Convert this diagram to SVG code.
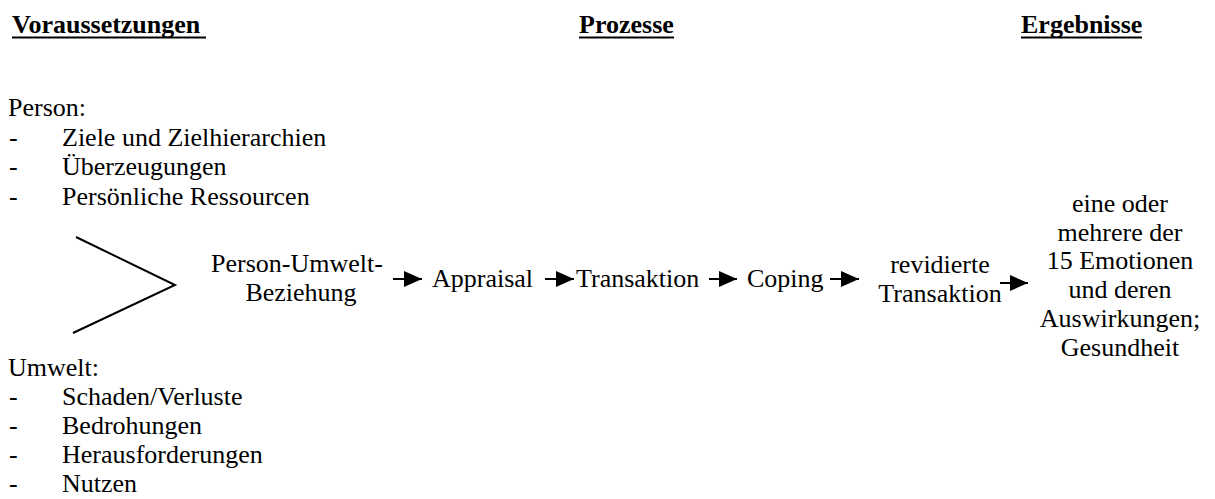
<svg xmlns="http://www.w3.org/2000/svg" width="1215" height="499" viewBox="0 0 1215 499" font-family="Liberation Serif" font-size="26">
  <style>
    .head { font-weight: bold; }
    .mid { text-anchor: middle; }
    .rule { stroke: #000; stroke-width: 2; }
    .conn { stroke: #000; stroke-width: 2; fill: none; }
  </style>
  <defs>
    <marker id="arrowhead" viewBox="0 0 18 16" refX="18" refY="8" markerWidth="18" markerHeight="16" markerUnits="userSpaceOnUse" orient="auto">
      <path d="M0,0 L18,8 L0,16 z" fill="#000"/>
    </marker>
  </defs>

  <!-- column headings with underlines -->
  <g id="headings">
    <text class="head" x="12" y="33">Voraussetzungen</text>
    <line class="rule" x1="12" y1="37.5" x2="206" y2="37.5"/>
    <text class="head" x="579" y="33">Prozesse</text>
    <line class="rule" x1="579" y1="37.5" x2="674" y2="37.5"/>
    <text class="head" x="1021" y="33">Ergebnisse</text>
    <line class="rule" x1="1021" y1="37.5" x2="1142" y2="37.5"/>
  </g>

  <!-- person factors -->
  <g id="person">
    <text x="8" y="116">Person:</text>
    <text x="9" y="145.7">-</text><text x="62" y="145.7">Ziele und Zielhierarchien</text>
    <text x="9" y="175.4">-</text><text x="62" y="175.4">Überzeugungen</text>
    <text x="9" y="205">-</text><text x="62" y="205">Persönliche Ressourcen</text>
  </g>

  <!-- environment factors -->
  <g id="umwelt">
    <text x="8" y="376">Umwelt:</text>
    <text x="9" y="405">-</text><text x="62" y="405">Schaden/Verluste</text>
    <text x="9" y="434">-</text><text x="62" y="434">Bedrohungen</text>
    <text x="9" y="463">-</text><text x="62" y="463">Herausforderungen</text>
    <text x="9" y="492">-</text><text x="62" y="492">Nutzen</text>
  </g>

  <g id="pu-beziehung">
    <text class="mid" x="297" y="272">Person-Umwelt-</text>
    <text class="mid" x="301" y="301">Beziehung</text>
  </g>
  <g id="appraisal"><text x="432" y="287">Appraisal</text></g>
  <g id="transaktion"><text x="576" y="287">Transaktion</text></g>
  <g id="coping"><text x="747" y="287">Coping</text></g>
  <g id="revidierte-transaktion">
    <text class="mid" x="940" y="273">revidierte</text>
    <text class="mid" x="940" y="302">Transaktion</text>
  </g>
  <g id="ergebnis">
    <text class="mid" x="1120" y="212">eine oder</text>
    <text class="mid" x="1120" y="240.7">mehrere der</text>
    <text class="mid" x="1120" y="269.4">15 Emotionen</text>
    <text class="mid" x="1120" y="298">und deren</text>
    <text class="mid" x="1120" y="326.8">Auswirkungen;</text>
    <text class="mid" x="1120" y="355.5">Gesundheit</text>
  </g>

  <!-- chevron joining both factor lists, then the process chain -->
  <g id="connectors">
    <polyline class="conn" points="76,237 175,285 73,333"/>
    <line class="conn" x1="393" y1="279" x2="422" y2="279" marker-end="url(#arrowhead)"/>
    <line class="conn" x1="545" y1="279" x2="574" y2="279" marker-end="url(#arrowhead)"/>
    <line class="conn" x1="709" y1="279" x2="737" y2="279" marker-end="url(#arrowhead)"/>
    <line class="conn" x1="830" y1="279" x2="859" y2="279" marker-end="url(#arrowhead)"/>
    <line class="conn" x1="1000" y1="283" x2="1028" y2="283" marker-end="url(#arrowhead)"/>
  </g>
</svg>
